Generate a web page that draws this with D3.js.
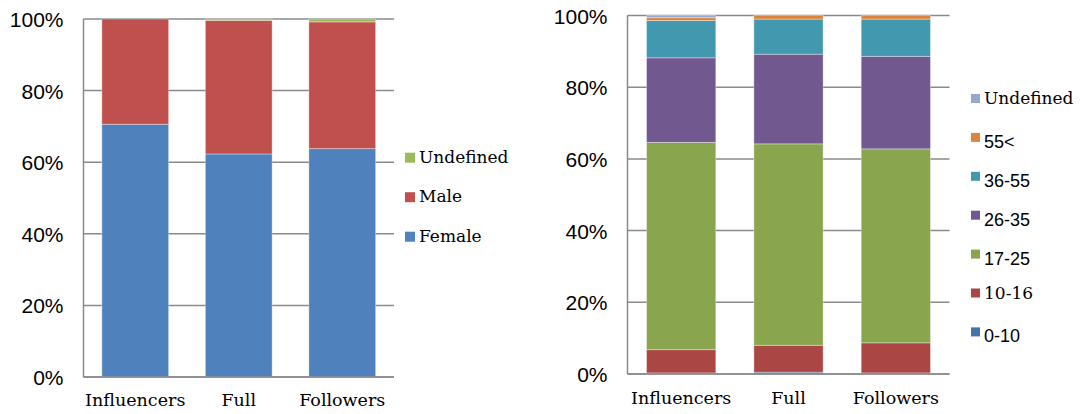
<!DOCTYPE html>
<html>
<head>
<meta charset="utf-8">
<script src="https://cdn.jsdelivr.net/npm/d3@7"></script>
<style>
  body { margin: 0; background: #fff; }
  svg { display: block; }
  .tick-label { font-family: "Liberation Sans", Arial, sans-serif; font-size: 21px; fill: #000; }
  .cat-label { font-family: "DejaVu Serif", serif; font-size: 17.5px; fill: #000; }
  .leg-serif { font-family: "DejaVu Serif", serif; font-size: 17px; fill: #000; }
  .leg-sans { font-family: "Liberation Sans", Arial, sans-serif; font-size: 18px; fill: #000; }
</style>
</head>
<body>
<svg width="1083" height="414"></svg>
<script>
const groups = ["Influencers", "Full", "Followers"];
const yTicks = [0, 20, 40, 60, 80, 100];

// gender chart (bottom to top)
const genderKeys = ["Female", "Male", "Undefined"];
const female = [70.6, 62.3, 63.8];
const male = [29.4, 37.3, 35.4];
const genderUndef = [0.0, 0.4, 0.8];

// age chart (bottom to top)
const ageKeys = ["0-10", "10-16", "17-25", "26-35", "36-55", "55<", "Undefined"];
const age0_10 = [0.3, 0.5, 0.3];
const age10_16 = [6.5, 7.5, 8.4];
const age17_25 = [57.8, 56.2, 54.1];
const age26_35 = [23.6, 25.0, 25.8];
const age36_55 = [10.4, 9.8, 10.4];
const age55 = [0.8, 1.0, 1.0];
const ageUndef = [0.6, 0.0, 0.0];

const genderColors = ["#4F81BD", "#C0504D", "#9BBB59"];
const ageColors = ["#4572A7", "#AA4643", "#89A54E", "#71588F", "#4198AF", "#DB843D", "#93A9CF"];
const serifLegend = new Set(["Undefined", "Male", "Female", "10-16"]);

const svg = d3.select("svg");

function rows(keys, series) {
  return groups.map((g, i) => {
    const r = { group: g };
    keys.forEach((k, j) => r[k] = series[j][i]);
    return r;
  });
}

function drawChart(opt) {
  const g = svg.append("g");
  const x = d3.scaleBand().domain(groups).range([opt.left, opt.right])
    .paddingInner(0.355).paddingOuter(0.1775);
  const y = d3.scaleLinear().domain([0, 100]).range([opt.bottom, opt.top]);

  // gridlines
  g.selectAll(".grid")
    .data(yTicks)
    .enter()
    .append("line")
    .attr("x1", opt.left)
    .attr("x2", opt.right)
    .attr("y1", d => y(d))
    .attr("y2", d => y(d))
    .attr("stroke", "#8a8a8a")
    .attr("stroke-width", 1.5);

  // y axis line
  g.append("line")
    .attr("x1", opt.left).attr("x2", opt.left)
    .attr("y1", opt.top).attr("y2", opt.bottom)
    .attr("stroke", "#8a8a8a")
    .attr("stroke-width", 1.5);

  // y labels
  g.selectAll(".tick-label")
    .data(yTicks)
    .enter()
    .append("text")
    .attr("class", "tick-label")
    .attr("x", opt.left - 20)
    .attr("y", d => y(d) + 8)
    .attr("text-anchor", "end")
    .text(d => d + "%");

  // stacked bars
  const stack = d3.stack().keys(opt.keys)(rows(opt.keys, opt.series));
  const layer = g.selectAll(".layer")
    .data(stack)
    .enter()
    .append("g")
    .attr("fill", (d, i) => opt.colors[i]);

  layer.selectAll("rect")
    .data(d => d)
    .enter()
    .append("rect")
    .attr("x", d => x(d.data.group))
    .attr("width", x.bandwidth())
    .attr("y", d => y(d[1]))
    .attr("height", d => y(d[0]) - y(d[1]))
    .attr("stroke", "#fff")
    .attr("stroke-opacity", 0.35)
    .attr("stroke-width", 1);

  // bottom axis line on top of bars
  g.append("line")
    .attr("x1", opt.left).attr("x2", opt.right)
    .attr("y1", opt.bottom).attr("y2", opt.bottom)
    .attr("stroke", "#8a8a8a")
    .attr("stroke-width", 1.5);

  // category labels
  g.selectAll(".cat-label")
    .data(groups)
    .enter()
    .append("text")
    .attr("class", "cat-label")
    .attr("x", d => x(d) + x.bandwidth() / 2)
    .attr("y", opt.catY)
    .attr("text-anchor", "middle")
    .text(d => d);

  // legend, top to bottom = reverse stack order
  const legItems = opt.keys.map((k, i) => ({ key: k, color: opt.colors[i] })).reverse();
  const leg = g.selectAll(".leg")
    .data(legItems)
    .enter()
    .append("g")
    .attr("transform", (d, i) => `translate(${opt.legX}, ${opt.legY + i * opt.legStep})`);

  leg.append("rect")
    .attr("width", opt.sw)
    .attr("height", opt.sw)
    .attr("fill", d => d.color);

  leg.append("text")
    .attr("class", d => serifLegend.has(d.key) ? "leg-serif" : "leg-sans")
    .attr("x", opt.textDx)
    .attr("y", d => serifLegend.has(d.key) ? 10 : 15)
    .text(d => d.key);
}

drawChart({
  keys: genderKeys,
  series: [female, male, genderUndef],
  colors: genderColors,
  left: 83.5, right: 394, top: 19, bottom: 377,
  catY: 406,
  legX: 405, legY: 152.7, legStep: 39.5, sw: 10, textDx: 14
});

drawChart({
  keys: ageKeys,
  series: [age0_10, age10_16, age17_25, age26_35, age36_55, age55, ageUndef],
  colors: ageColors,
  left: 627.5, right: 949.5, top: 15.5, bottom: 374,
  catY: 403.5,
  legX: 971, legY: 94, legStep: 38.9, sw: 9, textDx: 13
});
</script>
</body>
</html>
